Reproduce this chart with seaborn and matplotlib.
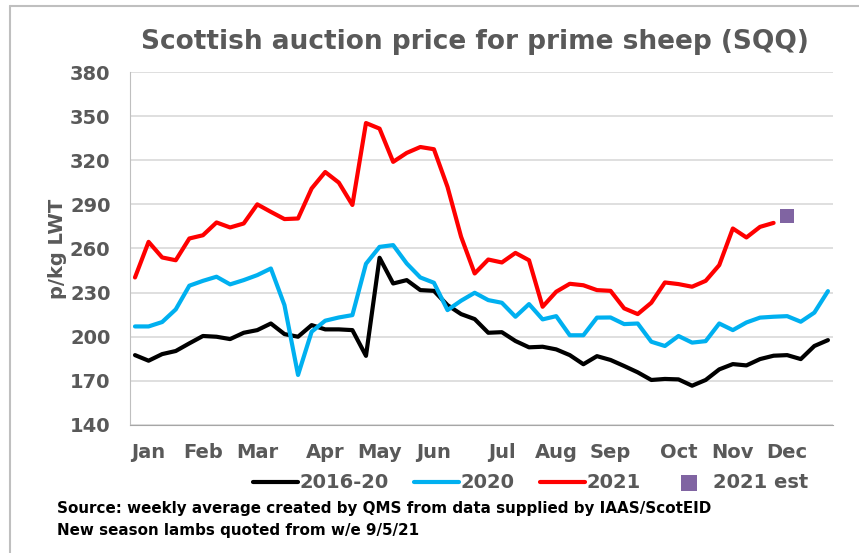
import numpy as np
import pandas as pd
import matplotlib
matplotlib.use("Agg")
import matplotlib.pyplot as plt
import seaborn as sns

# weekly prices, p/kg LWT (week 0 = first week of Jan)
avg_2016_20 = [187.5, 183.7, 188.2, 190.3, 195.5, 200.5, 200, 198.4, 202.7, 204.5,
               209, 201.8, 200, 207.9, 205, 205, 204.5, 187, 253.7, 236.2,
               238.5, 231.7, 231.2, 221.5, 215.4, 212, 202.7, 203.1, 197.1, 192.8,
               193.2, 191.4, 187.5, 181.3, 186.8, 184.2, 180.1, 175.8, 170.6, 171.3,
               171, 166.7, 170.6, 177.8, 181.4, 180.5, 184.8, 187.1, 187.5, 184.8,
               193.7, 197.7]
price_2020 = [207, 207, 210, 218.6, 234.7, 238, 240.8, 235.6, 238.5, 241.9,
              246.4, 221.5, 174, 203.4, 210.9, 213.1, 214.7, 249.6, 261.1, 262.3,
              249.8, 240.3, 236.7, 218.1, 224.5, 229.9, 224.9, 223.1, 213.6, 222.2,
              211.8, 214, 201, 201, 213, 213.1, 208.6, 209, 196.6, 193.7,
              200.5, 196, 197, 209, 204.5, 209.7, 213, 213.6, 214, 210.2,
              216.4, 231]
price_2021 = [240.3, 264.5, 253.9, 252, 266.8, 269, 277.7, 274.3, 277, 290,
              284.9, 280, 280.4, 300.8, 312, 304.8, 289.6, 345.3, 341.5, 318.9,
              325, 329, 327.5, 301.9, 268, 243, 252.5, 250.5, 257, 252,
              220.4, 230.6, 236, 235, 231.7, 231.2, 219.3, 215.4, 223.1, 236.9,
              235.8, 234, 238, 248.7, 273.6, 267.5, 274.7, 277.4]
est_week = [48]
est_2021 = [282]

months = ["Jan", "Feb", "Mar", "Apr", "May", "Jun", "Jul", "Aug", "Sep", "Oct", "Nov", "Dec"]
month_weeks = [1, 5, 9, 14, 18, 22, 27, 31, 35, 40, 44, 48]

weeks = np.arange(52)
df = pd.concat([
    pd.DataFrame({"week": weeks, "price": avg_2016_20, "series": "2016-20"}),
    pd.DataFrame({"week": weeks, "price": price_2020, "series": "2020"}),
    pd.DataFrame({"week": weeks[:len(price_2021)], "price": price_2021, "series": "2021"}),
])
est = pd.DataFrame({"week": est_week, "price": est_2021})

sns.set_style("white")
plt.rcParams["font.family"] = ["DejaVu Sans"]
grey = "#595959"

fig = plt.figure(figsize=(8.59, 5.53), dpi=100)
ax = fig.add_axes([0.1513, 0.2315, 0.8184, 0.6383])

sns.lineplot(data=df, x="week", y="price", hue="series",
             palette={"2016-20": "#000000", "2020": "#00b0f0", "2021": "#ff0000"},
             linewidth=3, ax=ax)
sns.scatterplot(data=est, x="week", y="price", marker="s", s=110, color="#8064a2",
                edgecolor="none", label="2021 est", ax=ax)

ax.set_ylim(140, 380)
ax.set_yticks(range(140, 381, 30))
ax.set_xlim(-0.37, 51.37)
ax.set_xticks(month_weeks)
ax.set_xticklabels(months)
ax.grid(axis="y", color="#d9d9d9", linewidth=1.2)
ax.set_axisbelow(True)
for s in ["top", "right"]:
    ax.spines[s].set_visible(False)
ax.spines["left"].set_color("#bfbfbf")
ax.spines["bottom"].set_color("#a6a6a6")
ax.tick_params(length=0, labelsize=14, labelcolor=grey)
ax.tick_params(axis="x", pad=13)
ax.tick_params(axis="y", pad=14)
for lab in ax.get_xticklabels() + ax.get_yticklabels():
    lab.set_fontweight("bold")
ax.set_xlabel("")
ax.set_ylabel("p/kg LWT", fontsize=14, fontweight="bold", color=grey, labelpad=2)

fig.text(0.553, 0.924, "Scottish auction price for prime sheep (SQQ)",
         ha="center", va="center", fontsize=19, fontweight="bold", color=grey)

sns.move_legend(ax, "center", bbox_to_anchor=(0.57, -0.164), ncol=4, frameon=False,
                title=None, fontsize=14, handlelength=2.3, columnspacing=1.3,
                handletextpad=0.1, markerscale=1.1)
for t in ax.get_legend().get_texts():
    t.set_fontweight("bold")
    t.set_color(grey)

fig.text(0.066, 0.081, "Source: weekly average created by QMS from data supplied by IAAS/ScotEID",
         fontsize=10.9, fontweight="bold", color="black", va="center")
fig.text(0.066, 0.041, "New season lambs quoted from w/e 9/5/21",
         fontsize=10.9, fontweight="bold", color="black", va="center")

# outer frame lines (left and top)
fig.add_artist(plt.Line2D([0.0116, 0.0116], [0, 0.99], color="#bfbfbf", lw=1.5,
                          transform=fig.transFigure))
fig.add_artist(plt.Line2D([0.0116, 1], [0.99, 0.99], color="#bfbfbf", lw=1.5,
                          transform=fig.transFigure))

fig.savefig("out.png", dpi=100)
